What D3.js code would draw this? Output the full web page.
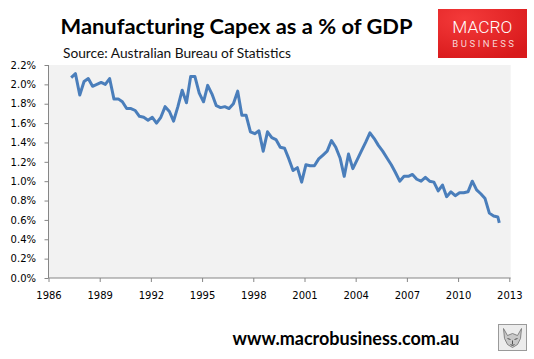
<!DOCTYPE html>
<html>
<head>
<meta charset="utf-8">
<script src="https://cdn.jsdelivr.net/npm/d3@7"></script>
<style>
html,body{margin:0;padding:0;background:#fff;}
svg{display:block;}
</style>
</head>
<body>
<svg id="chart" width="534" height="359"></svg>
<script>
// ---- Data (quarterly observations, month of observation) ----
const obsDates = [
 "1987-05","1987-08","1987-11",
 "1988-02","1988-05","1988-08","1988-11",
 "1989-02","1989-05","1989-08","1989-11",
 "1990-02","1990-05","1990-08","1990-11",
 "1991-02","1991-05","1991-08","1991-11",
 "1992-02","1992-05","1992-08","1992-11",
 "1993-02","1993-05","1993-08","1993-11",
 "1994-02","1994-05","1994-08","1994-11",
 "1995-02","1995-05","1995-08","1995-11",
 "1996-02","1996-05","1996-08","1996-11",
 "1997-02","1997-05","1997-08","1997-11",
 "1998-02","1998-05","1998-08","1998-11",
 "1999-02","1999-05","1999-08","1999-11",
 "2000-02","2000-05","2000-08","2000-11",
 "2001-02","2001-05","2001-08","2001-11",
 "2002-02","2002-05","2002-08","2002-11",
 "2003-02","2003-05","2003-08","2003-11",
 "2004-02","2004-05","2004-08","2004-11",
 "2005-02","2005-05","2005-08","2005-11",
 "2006-02","2006-05","2006-08","2006-11",
 "2007-02","2007-05","2007-08","2007-11",
 "2008-02","2008-05","2008-08","2008-11",
 "2009-02","2009-05","2009-08","2009-11",
 "2010-02","2010-05","2010-08","2010-11",
 "2011-02","2011-05","2011-08","2011-11",
 "2012-02","2012-05","2012-06"
];
const capexPctGDP = [
 2.07,2.11,1.89,
 2.03,2.06,1.98,2.00,
 2.02,2.00,2.06,1.85,
 1.85,1.82,1.75,1.75,
 1.73,1.67,1.66,1.63,
 1.66,1.60,1.66,1.77,
 1.72,1.62,1.77,1.94,
 1.81,2.08,2.08,1.91,
 1.82,1.99,1.90,1.78,
 1.76,1.77,1.75,1.80,
 1.93,1.68,1.68,1.51,
 1.49,1.52,1.31,1.51,
 1.45,1.43,1.35,1.34,
 1.23,1.11,1.14,0.99,
 1.17,1.16,1.16,1.23,
 1.27,1.31,1.42,1.35,
 1.24,1.05,1.28,1.13,
 1.22,1.31,1.40,1.50,
 1.44,1.37,1.31,1.24,
 1.17,1.09,1.00,1.05,
 1.05,1.07,1.02,1.00,
 1.04,1.00,0.99,0.90,
 0.96,0.84,0.89,0.85,
 0.88,0.88,0.89,1.00,
 0.91,0.87,0.82,0.67,
 0.64,0.63,0.57
];
const yTickValues = [0,0.2,0.4,0.6,0.8,1.0,1.2,1.4,1.6,1.8,2.0,2.2];
const xTickYears = [1986,1989,1992,1995,1998,2001,2004,2007,2010,2013];
const titleText = "Manufacturing Capex as a % of GDP";
const sourceText = "Source: Australian Bureau of Statistics";
const footerText = "www.macrobusiness.com.au";

// ---- Layout ----
const svg = d3.select("#chart");
const plot = {left: 48.5, right: 510.7, top: 65, bottom: 278};
const parse = d3.timeParse("%Y-%m");
const data = obsDates.map((d, i) => ({date: parse(d), value: capexPctGDP[i]}));

const x = d3.scaleTime()
  .domain([new Date(1986,0,1), new Date(2013,0,1)])
  .range([plot.left, 509.3]);
const y = d3.scaleLinear().domain([0, 2.2]).range([plot.bottom, plot.top]);

// plot background
svg.append("rect")
  .attr("x", plot.left).attr("y", plot.top)
  .attr("width", plot.right - plot.left).attr("height", plot.bottom - plot.top)
  .attr("fill", "#f2f2f2");

// line
const line = d3.line().x(d => x(d.date)).y(d => y(d.value));
svg.append("path")
  .datum(data)
  .attr("d", line)
  .attr("fill", "none")
  .attr("stroke", "#4a7ebb")
  .attr("stroke-width", 3)
  .attr("stroke-linejoin", "round")
  .attr("stroke-linecap", "butt");

// axes
const axisColor = "#868686";
const yAxis = d3.axisLeft(y).tickValues(yTickValues)
  .tickFormat(d3.format(".1%")).tickSize(4).tickSizeOuter(0).tickPadding(8.5);
const gy = svg.append("g").attr("transform", `translate(${plot.left},0)`).call(yAxis);
gy.select(".domain").attr("stroke", axisColor).attr("d", `M0,${plot.top}V${plot.bottom}`);
gy.selectAll(".tick line").attr("stroke", axisColor);
gy.selectAll("text").attr("font-family", "DejaVu Sans").attr("font-size", 10).attr("fill", "#000")
  .text(d => d3.format(".1f")(d * 1) + "%");

const xAxis = d3.axisBottom(x)
  .tickValues(xTickYears.map(yr => new Date(yr,0,1)))
  .tickFormat(d3.timeFormat("%Y")).tickSize(4).tickSizeOuter(0).tickPadding(10);
const gx = svg.append("g").attr("transform", `translate(0,${plot.bottom})`).call(xAxis);
gx.select(".domain").attr("stroke", axisColor).attr("d", `M${plot.left},0H${plot.right}`);
gx.selectAll(".tick line").attr("stroke", axisColor);
gx.selectAll("text").attr("font-family", "DejaVu Sans").attr("font-size", 10).attr("fill", "#000");

// titles
svg.append("text").attr("x", 60.5).attr("y", 34)
  .attr("font-family", "Lato").attr("font-weight", "bold").attr("font-size", 21)
  .attr("textLength", 352).attr("lengthAdjust", "spacingAndGlyphs")
  .attr("fill", "#000").text(titleText);
svg.append("text").attr("x", 63).attr("y", 57.5)
  .attr("font-family", "Lato").attr("font-size", 12.5)
  .attr("textLength", 228).attr("lengthAdjust", "spacingAndGlyphs")
  .attr("fill", "#111").text(sourceText);

// logo
const defs = svg.append("defs");
const grad = defs.append("radialGradient").attr("id", "logoGrad")
  .attr("cx", "30%").attr("cy", "20%").attr("r", "90%");
grad.append("stop").attr("offset", "0%").attr("stop-color", "#f43a3a");
grad.append("stop").attr("offset", "100%").attr("stop-color", "#d8191b");
svg.append("rect").attr("x", 438).attr("y", 9).attr("width", 89).attr("height", 49)
  .attr("fill", "url(#logoGrad)");
svg.append("text").attr("x", 452.3).attr("y", 33.3)
  .attr("font-family", "Roboto").attr("font-weight", 300).attr("font-size", 16.3)
  .attr("textLength", 60).attr("lengthAdjust", "spacingAndGlyphs")
  .attr("fill", "#fff").text("MACRO");
svg.append("text").attr("x", 452.3).attr("y", 46.7)
  .attr("font-family", "Roboto").attr("font-size", 9.5)
  .attr("textLength", 61.7).attr("lengthAdjust", "spacing")
  .attr("fill", "#f7d6d6").text("BUSINESS");

// footer
svg.append("text").attr("x", 232.5).attr("y", 344.5)
  .attr("font-family", "Lato").attr("font-weight", "bold").attr("font-size", 18.5)
  .attr("textLength", 227).attr("lengthAdjust", "spacingAndGlyphs")
  .attr("fill", "#000").text(footerText);

// small wolf emblem
const wolf = svg.append("g").attr("transform", "translate(498.5,324.5)");
wolf.append("rect").attr("width", 28).attr("height", 26).attr("fill", "#ececec")
  .attr("stroke", "#9a9a9a").attr("stroke-width", 1);
wolf.append("path").attr("d", "M5,4 L9,11 L14,9 L19,11 L23,4 L22,14 L19,20 L14,23 L9,20 L6,14 Z")
  .attr("fill", "#c8c8c8").attr("stroke", "#6e6e6e").attr("stroke-width", 0.8);
wolf.append("path").attr("d", "M9,14 L12,15 M16,15 L19,14 M12,20 L14,21 L16,20 M14,16 L14,20")
  .attr("fill", "none").attr("stroke", "#444").attr("stroke-width", 0.9);
</script>
</body>
</html>
